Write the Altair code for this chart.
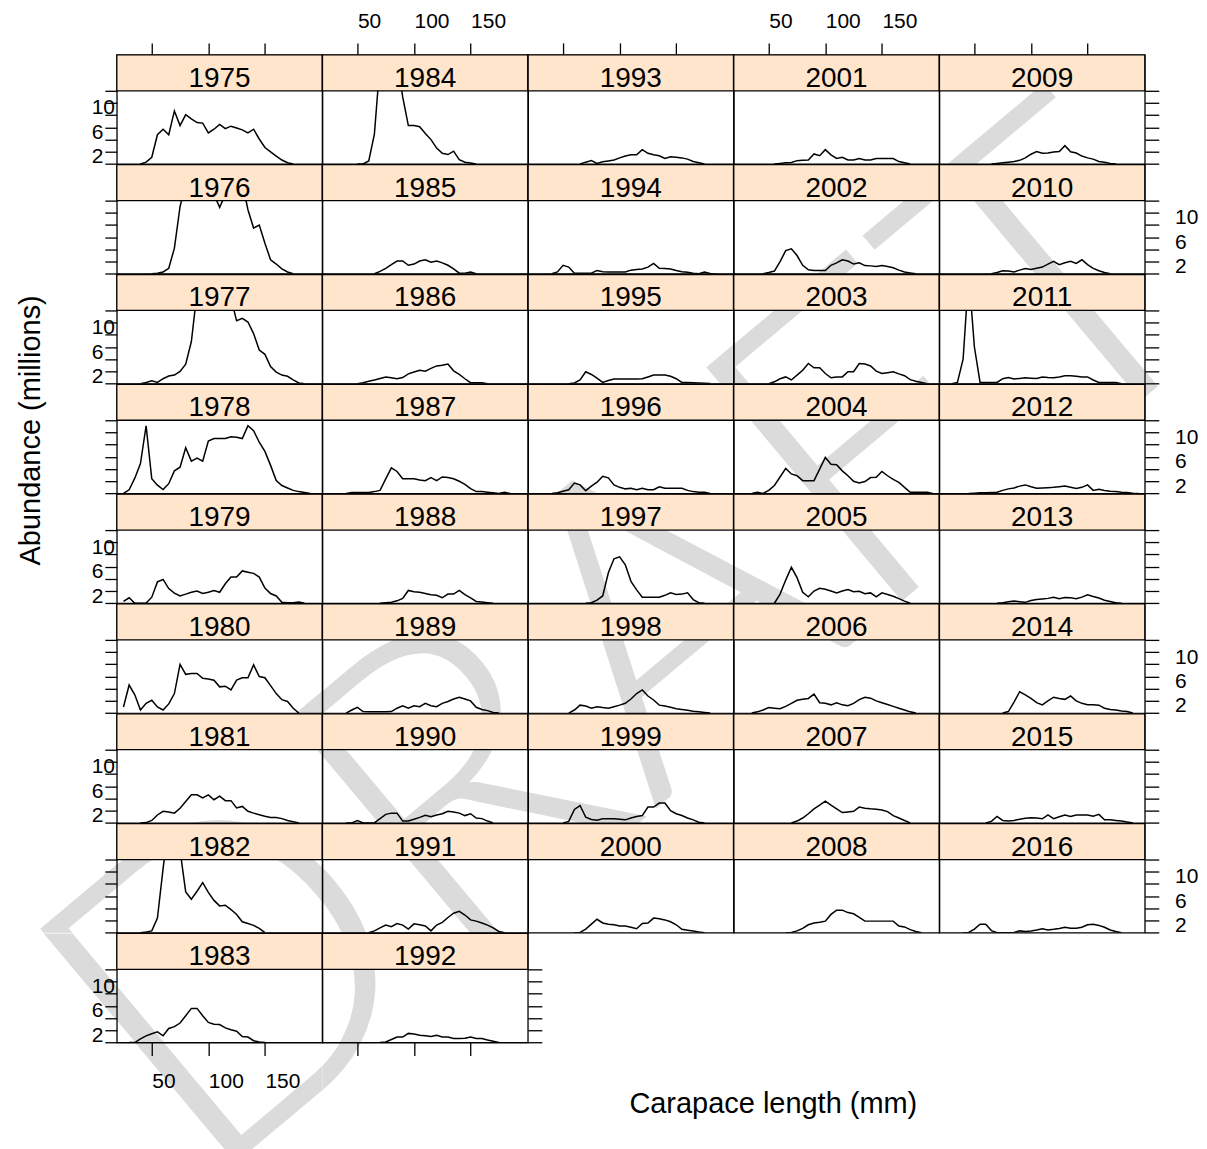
import altair as alt
import pandas as pd

FONT = "Liberation Sans"

COLUMNS = [
    list(range(1975, 1984)),
    list(range(1984, 1993)),
    list(range(1993, 2001)),
    list(range(2001, 2009)),
    list(range(2009, 2017)),
]

X_TICKS = [50, 100, 150]
Y_TICKS = [0, 2, 4, 6, 8, 10, 12]
STRIP_FILL = "#FFE5CC"
BIN_STEP = 5

SERIES = {
    1975: (40, [0, 0.3, 1.1, 4.8, 5.7, 4.8, 8.7, 6.3, 8.1, 7.4, 6.8, 6.7, 5.1, 5.7, 6.5, 5.8, 6.2, 5.9, 5.6, 5.1, 5.7, 4.1, 2.7, 2.0, 1.3, 0.65, 0.2, 0]),
    1976: (50, [0, 0.1, 0.3, 0.9, 4.2, 11, 15, 18, 20, 18, 15, 13, 10.9, 13, 18, 18, 15, 10.5, 7.5, 8.0, 5.0, 2.3, 1.6, 0.8, 0.3, 0]),
    1977: (40, [0, 0.2, 0.45, 0.2, 0.8, 1.25, 1.4, 2.0, 3.2, 6.9, 15, 18, 20, 20, 18, 16, 14, 10.3, 10.7, 10.1, 8.2, 5.5, 4.8, 2.8, 1.9, 1.4, 1.2, 0.6, 0.1, 0]),
    1978: (25, [0, 0.6, 2.5, 4.9, 11.1, 2.4, 1.35, 0.65, 1.6, 3.7, 4.3, 7.5, 5.3, 5.8, 5.3, 8.6, 9.0, 9.0, 9.0, 9.3, 9.2, 9.0, 11.1, 10.3, 8.4, 6.9, 4.6, 2.1, 1.3, 0.9, 0.5, 0.3, 0.15, 0]),
    1979: (25, [0.3, 0.9, 0, 0, 0.05, 1.0, 3.5, 3.9, 2.4, 1.65, 1.2, 1.5, 1.8, 2.0, 1.6, 1.8, 2.1, 1.8, 3.2, 4.3, 4.3, 5.3, 5.1, 4.9, 4.3, 2.5, 1.6, 1.2, 0.15, 0.1, 0.1, 0.2, 0]),
    1980: (25, [1.0, 4.6, 3.0, 0.5, 1.6, 2.1, 1.0, 0.5, 1.5, 3.2, 8.0, 6.35, 6.5, 6.5, 5.7, 5.6, 5.4, 4.3, 4.4, 3.8, 5.4, 5.8, 5.8, 7.9, 6.0, 5.8, 4.5, 3.2, 2.2, 1.9, 0.8, 0]),
    1981: (40, [0, 0.05, 0.4, 1.3, 1.9, 1.8, 1.6, 2.4, 3.5, 4.6, 4.6, 4.1, 4.6, 3.8, 4.4, 3.65, 3.65, 2.45, 2.7, 1.9, 1.6, 1.35, 1.1, 0.9, 0.9, 0.7, 0.4, 0.2, 0]),
    1982: (40, [0, 0.1, 0.3, 2.4, 10.5, 18, 20, 13.5, 6.7, 5.5, 6.8, 8.2, 6.6, 5.3, 4.4, 4.5, 3.8, 3.0, 1.8, 1.5, 1.2, 0.7, 0]),
    1983: (30, [0, 0, 0.6, 1.1, 1.45, 1.75, 1.1, 2.3, 2.6, 3.2, 4.4, 5.6, 5.6, 4.4, 3.3, 3.0, 2.95, 2.4, 2.1, 1.85, 1.0, 0.9, 0.3, 0.1, 0]),
    1984: (50, [0, 0, 0.5, 4.9, 16.7, 20, 19, 17, 11, 6.3, 6.3, 6.1, 5.0, 4.0, 2.6, 1.75, 1.55, 2.1, 0.7, 0.3, 0.15, 0]),
    1985: (65, [0, 0.4, 0.9, 1.5, 2.1, 2.1, 1.4, 1.6, 2.1, 2.3, 1.9, 2.1, 1.8, 1.4, 0.8, 0.1, 0.1, 0.3, 0]),
    1986: (50, [0, 0.15, 0.4, 0.6, 0.85, 1.1, 0.95, 0.8, 1.0, 1.6, 1.9, 2.2, 2.05, 2.5, 2.9, 3.0, 3.2, 2.1, 1.5, 0.8, 0.15, 0.15, 0.15, 0]),
    1987: (40, [0, 0.15, 0.15, 0.15, 0.15, 0.3, 0.5, 2.4, 4.2, 3.6, 2.4, 2.4, 2.4, 2.2, 2.1, 2.6, 2.1, 2.7, 2.6, 2.4, 2.0, 1.5, 0.8, 0.3, 0.3, 0.2, 0.1, 0, 0.2, 0]),
    1988: (70, [0, 0.1, 0.15, 0.4, 0.8, 2.1, 1.9, 1.8, 1.6, 1.4, 1.3, 0.9, 1.5, 1.5, 2.1, 1.4, 0.9, 0.3, 0.2, 0.1, 0]),
    1989: (40, [0, 0.5, 0.95, 0.25, 0.2, 0.2, 0.2, 0.2, 0.25, 0.8, 1.2, 0.8, 1.2, 1.05, 1.6, 1.2, 1.05, 1.6, 1.9, 2.3, 2.6, 2.3, 2.0, 0.95, 0.6, 0.4, 0.1, 0]),
    1990: (40, [0, 0, 0.4, 0, 0, 0, 0.7, 1.4, 1.6, 1.6, 0.3, 0.3, 0.6, 0.9, 1.25, 1.0, 1.3, 1.5, 1.9, 1.8, 1.6, 1.2, 1.5, 0.8, 0.7, 0.3, 0]),
    1991: (60, [0, 0.3, 0.8, 1.25, 1.0, 1.5, 1.25, 0.6, 1.45, 1.3, 1.1, 0.3, 1.25, 1.7, 2.5, 3.2, 3.5, 2.9, 2.1, 1.9, 1.6, 1.25, 0.8, 0.2, 0]),
    1992: (70, [0, 0.1, 0.5, 0.9, 0.9, 1.5, 1.4, 1.2, 1.1, 1.0, 1.2, 0.9, 0.9, 0.65, 0.65, 0.7, 0.9, 0.65, 0.65, 0.4, 0.2, 0]),
    1993: (65, [0, 0.3, 0.55, 0.1, 0.35, 0.5, 0.65, 1.0, 1.3, 1.5, 1.5, 2.35, 1.75, 1.5, 1.35, 0.9, 1.2, 1.1, 1.0, 0.8, 0.4, 0.2, 0]),
    1994: (40, [0, 0.3, 1.4, 1.1, 0.1, 0.1, 0.1, 0.1, 0.55, 0.35, 0.3, 0.3, 0.3, 0.3, 0.6, 0.7, 0.8, 1.1, 1.7, 0.9, 0.85, 0.8, 0.55, 0.35, 0.25, 0.1, 0, 0.3, 0.05, 0]),
    1995: (55, [0, 0.1, 0.6, 1.95, 1.5, 0.9, 0.2, 0.5, 0.75, 0.75, 0.75, 0.75, 0.75, 0.8, 1.1, 1.4, 1.4, 1.4, 1.2, 0.8, 0.2, 0.2, 0.15, 0.1, 0.05, 0]),
    1996: (40, [0, 0.1, 0.35, 0.6, 1.7, 1.4, 0.45, 1.2, 1.85, 2.8, 2.55, 1.4, 1.0, 0.75, 0.85, 0.6, 0.85, 0.6, 0.6, 1.1, 0.85, 0.85, 0.85, 0.85, 0.5, 0.3, 0.2, 0.2, 0]),
    1997: (70, [0, 0.1, 0.5, 1.2, 5.0, 7.3, 7.6, 6.3, 3.6, 2.2, 1.0, 1.0, 1.0, 1.0, 1.3, 1.7, 1.45, 1.5, 1.7, 0.6, 0.1, 0]),
    1998: (55, [0, 0.5, 1.3, 1.15, 0.8, 1.05, 0.9, 0.8, 1.05, 1.3, 1.6, 2.3, 3.2, 3.8, 2.8, 2.15, 1.3, 1.15, 0.95, 0.7, 0.6, 0.45, 0.3, 0.2, 0.1, 0]),
    1999: (50, [0, 0.25, 2.2, 2.85, 0.95, 0.55, 0.45, 0.67, 0.67, 0.67, 0.6, 0.5, 0.8, 1.05, 1.2, 2.6, 2.6, 3.25, 3.25, 2.0, 1.5, 1.2, 0.8, 0.5, 0.1, 0]),
    2000: (60, [0, 0.05, 0.6, 1.4, 2.2, 1.6, 1.4, 1.3, 1.1, 1.1, 0.9, 0.65, 1.5, 1.6, 2.4, 2.3, 2.1, 1.8, 1.3, 0.55, 0.4, 0.27, 0.1, 0]),
    2001: (55, [0, 0.1, 0.2, 0.25, 0.55, 0.6, 0.65, 1.65, 1.35, 2.35, 1.5, 0.9, 1.1, 0.65, 0.65, 0.9, 0.65, 0.65, 0.9, 0.9, 0.9, 0.9, 0.4, 0.2, 0]),
    2002: (45, [0, 0.2, 0.45, 2.0, 3.8, 4.1, 3.0, 1.4, 0.65, 0.55, 0.55, 0.55, 1.4, 1.8, 2.3, 2.1, 1.6, 1.8, 1.35, 1.3, 1.2, 1.35, 1.2, 1.0, 0.6, 0.3, 0.15, 0]),
    2003: (50, [0, 0.3, 0.8, 1.1, 0.6, 1.4, 2.2, 3.3, 2.6, 2.6, 1.65, 0.95, 1.1, 1.1, 1.95, 1.95, 3.3, 3.2, 2.9, 2.05, 1.65, 1.8, 1.95, 1.6, 1.3, 0.65, 0.4, 0.2, 0]),
    2004: (35, [0, 0.2, 0, 0.5, 1.3, 2.7, 4.1, 3.2, 2.9, 2.1, 2.1, 2.1, 4.0, 5.9, 4.8, 4.7, 3.7, 2.9, 2.0, 1.7, 1.95, 2.6, 2.65, 3.6, 2.9, 2.3, 1.8, 1.0, 0.2, 0.2, 0.2, 0.2, 0]),
    2005: (55, [0, 1.5, 3.8, 5.9, 4.2, 1.8, 1.05, 2.0, 2.45, 2.3, 2.0, 1.7, 2.0, 2.25, 1.9, 1.95, 1.55, 1.7, 1.05, 1.7, 1.45, 1.15, 0.75, 0.35, 0]),
    2006: (35, [0, 0.2, 0.5, 0.9, 0.8, 0.7, 1.1, 1.6, 2.1, 2.25, 2.4, 3.1, 1.7, 1.6, 1.35, 1.7, 1.35, 1.2, 1.6, 2.2, 2.6, 2.45, 2.0, 1.7, 1.4, 1.1, 0.8, 0.5, 0.2, 0]),
    2007: (70, [0, 0.3, 0.8, 1.5, 2.3, 2.9, 3.55, 2.9, 2.3, 1.7, 1.8, 1.9, 2.6, 2.4, 2.3, 2.25, 2.1, 1.85, 1.2, 0.8, 0.4, 0]),
    2008: (65, [0, 0.05, 0.3, 0.7, 1.3, 1.6, 1.7, 1.9, 3.0, 3.7, 3.7, 3.3, 3.1, 2.5, 1.9, 1.9, 1.9, 1.9, 1.9, 1.9, 1.1, 0.95, 0.5, 0.2, 0]),
    2009: (65, [0, 0.1, 0.2, 0.3, 0.4, 0.6, 1.0, 1.6, 2.05, 1.75, 1.8, 1.95, 2.05, 3.0, 2.0, 1.8, 1.3, 1.0, 0.8, 0.4, 0.27, 0.1, 0]),
    2010: (65, [0, 0.2, 0.5, 0.45, 0.3, 0.6, 0.85, 0.7, 0.9, 1.1, 1.6, 2.05, 1.5, 1.8, 2.05, 1.7, 2.3, 1.5, 0.9, 0.5, 0.2, 0]),
    2011: (30, [0, 0.2, 4.0, 18, 6.0, 0.2, 0.2, 0.2, 0.2, 0.8, 1.0, 0.75, 0.85, 0.95, 0.9, 0.85, 1.1, 1.0, 0.95, 1.1, 1.3, 1.3, 1.2, 1.1, 1.1, 0.6, 0.2, 0.2, 0.2, 0.2, 0]),
    2012: (45, [0, 0.05, 0.1, 0.1, 0.15, 0.2, 0.5, 0.75, 0.9, 1.2, 1.4, 1.1, 0.85, 0.9, 0.95, 1.0, 1.1, 1.2, 1.0, 0.8, 1.0, 1.4, 0.5, 0.7, 0.5, 0.35, 0.3, 0.2, 0.15, 0.05, 0]),
    2013: (70, [0, 0.1, 0.25, 0.35, 0.25, 0.15, 0.45, 0.6, 0.7, 0.8, 1.0, 0.75, 0.95, 0.9, 0.75, 1.0, 1.4, 1.1, 0.85, 0.5, 0.3, 0.1, 0]),
    2014: (75, [0, 0.25, 1.8, 3.5, 3.0, 2.4, 1.7, 1.35, 2.0, 2.6, 2.4, 2.25, 2.8, 2.0, 1.6, 1.35, 1.35, 1.3, 0.8, 0.6, 0.5, 0.35, 0.25, 0]),
    2015: (60, [0, 0.25, 1.05, 0.4, 0.3, 0.4, 0.6, 0.75, 0.85, 0.8, 0.67, 1.3, 0.7, 1.0, 1.3, 1.05, 1.3, 1.3, 1.3, 1.1, 1.4, 0.5, 0.5, 0.4, 0.3, 0.13, 0]),
    2016: (40, [0, 0.05, 0.6, 1.4, 1.4, 0.35, 0, 0, 0, 0.05, 0.3, 0.2, 0.3, 0.45, 0.65, 0.45, 0.55, 0.7, 0.9, 0.75, 0.75, 0.9, 1.3, 1.4, 1.2, 0.9, 0.45, 0.2, 0]),
}

# Geometry (pixels)
FIG_W, FIG_H = 1207, 1149
GRID_X0, GRID_Y0 = 116.7, 54.0
CELL_W, CELL_H = 205.7, 109.3
NROW, NCOL = 9, 5
STRIP_H = 36.0
PANEL_H = CELL_H - STRIP_H
X_DOMAIN = [19.1, 200.6]
Y_TOP = 12.0
Y_DOMAIN = [0, Y_TOP * CELL_H / PANEL_H]

# Outer frame: margin column/row sizes around the 5 x 9 panel grid
COL_W = [GRID_X0] + [CELL_W] * NCOL + [FIG_W - GRID_X0 - NCOL * CELL_W]
ROW_H = [GRID_Y0] + [CELL_H] * NROW + [FIG_H - GRID_Y0 - NROW * CELL_H]

# Watermark
WATERMARK = "DRAFT"
WM_FONT = "Lato"
WM_WEIGHT = 300
WM_CX, WM_CY = 640, 650
WM_SIZE = 430
WM_ANGLE = 320
WM_ALPHA = 0.14
WM_DF = pd.DataFrame({"w": [WATERMARK]})

LABEL_EXPR = "indexof([2, 6, 10], datum.value) >= 0 ? datum.label : ''"


def wm_layer(ox, oy):
    return alt.Chart(WM_DF).mark_text(
        font=WM_FONT, fontWeight=WM_WEIGHT, fontSize=WM_SIZE, angle=WM_ANGLE, color="black",
        opacity=WM_ALPHA, align="center", baseline="middle", clip=True,
    ).encode(x=alt.value(WM_CX - ox), y=alt.value(WM_CY - oy), text="w:N")


def blank(ox, oy, w, h):
    return wm_layer(ox, oy).properties(width=w, height=h, view=alt.ViewBackground(strokeOpacity=0))


def x_axis(orient, show_labels, title=None):
    kw = dict(
        orient=orient, values=X_TICKS, domain=False, grid=False,
        tickSize=12 if orient == "top" else 13, tickColor="black", tickWidth=1.3,
        labels=show_labels, labelFont=FONT, labelFontSize=21, labelColor="black",
        labelAlign="left", labelBaseline="middle", labelOverlap=False, labelFlush=False,
        labelPadding=21 if orient == "top" else 26,
    )
    if title:
        kw.update(title=title, titleX=773.5 - (GRID_X0 + CELL_W), titleY=1099 - (GRID_Y0 + NROW * CELL_H),
                  titleFont=FONT, titleFontSize=29, titleFontWeight="normal", titleColor="black",
                  titleAlign="center", titleBaseline="middle", titleAngle=0)
    else:
        kw.update(title=None)
    return alt.Axis(**kw)


def y_axis(orient, show_labels, title=None):
    left = orient == "left"
    kw = dict(
        orient=orient, values=Y_TICKS, domain=False, grid=False,
        tickSize=12 if left else 14, tickColor="black", tickWidth=1.3,
        labels=show_labels, labelExpr=LABEL_EXPR, labelFont=FONT, labelFontSize=21,
        labelColor="black", labelAlign="left", labelBaseline="middle", labelOffset=5,
        labelPadding=13.7 if left else 15.8, labelOverlap=False, labelFlush=False,
    )
    if title:
        kw.update(title=title, titleX=30 - GRID_X0, titleY=427.5 - (GRID_Y0 + 3 * CELL_H),
                  titleFont=FONT, titleFontSize=29, titleFontWeight="normal", titleColor="black",
                  titleAlign="center", titleBaseline="middle", titleAngle=270)
    else:
        kw.update(title=None)
    return alt.Axis(**kw)


def make_cell(year, r, c, ox, oy):
    start, vals = SERIES[year]
    df = pd.DataFrame({"length": [start + BIN_STEP * i for i in range(len(vals))], "abund": vals})

    xa = None
    if r == 0:
        xa = x_axis("top", c in (1, 3))
    elif year == 1983:
        xa = x_axis("bottom", True)
    elif year == 1992:
        xa = x_axis("bottom", False, title="Carapace length (mm)")
    ya = None
    if c == 0:
        ya = y_axis("left", r % 2 == 0, title="Abundance (millions)" if year == 1978 else None)
    elif c == 4 or year == 1992:
        ya = y_axis("right", r % 2 == 1)

    line = alt.Chart(df).mark_line(color="black", strokeWidth=1.5, clip=True).encode(
        x=alt.X("length:Q", scale=alt.Scale(domain=X_DOMAIN, nice=False, zero=False), axis=xa),
        y=alt.Y("abund:Q", scale=alt.Scale(domain=Y_DOMAIN, nice=False, zero=False), axis=ya),
    )
    one = pd.DataFrame({"year": [str(year)]})
    strip = alt.Chart(one).mark_rect(fill=STRIP_FILL, stroke="black", strokeWidth=1.3).encode(
        x=alt.value(0), x2=alt.value(CELL_W), y=alt.value(0), y2=alt.value(STRIP_H)
    )
    label = alt.Chart(one).mark_text(font=FONT, fontSize=28, color="black", align="center",
                                     baseline="alphabetic").encode(
        x=alt.value(CELL_W / 2), y=alt.value(STRIP_H - 4), text="year:N"
    )
    return alt.layer(wm_layer(ox, oy), line, strip, label).properties(width=CELL_W, height=CELL_H)


cells = []
oy = 0.0
for R, h in enumerate(ROW_H):
    ox = 0.0
    for C, w in enumerate(COL_W):
        r, c = R - 1, C - 1
        year = None
        if 0 <= r < NROW and 0 <= c < NCOL and r < len(COLUMNS[c]):
            year = COLUMNS[c][r]
        if year is not None:
            cells.append(make_cell(year, r, c, ox, oy))
        else:
            cells.append(blank(ox, oy, w, h))
        ox += w
    oy += h

chart = alt.concat(*cells, columns=len(COL_W), spacing=0, bounds="flush").properties(
    padding=0
).configure(background="white").configure_view(stroke="black", strokeWidth=1.3)

chart.save("out.html", embed_options={"renderer": "svg", "actions": False})
